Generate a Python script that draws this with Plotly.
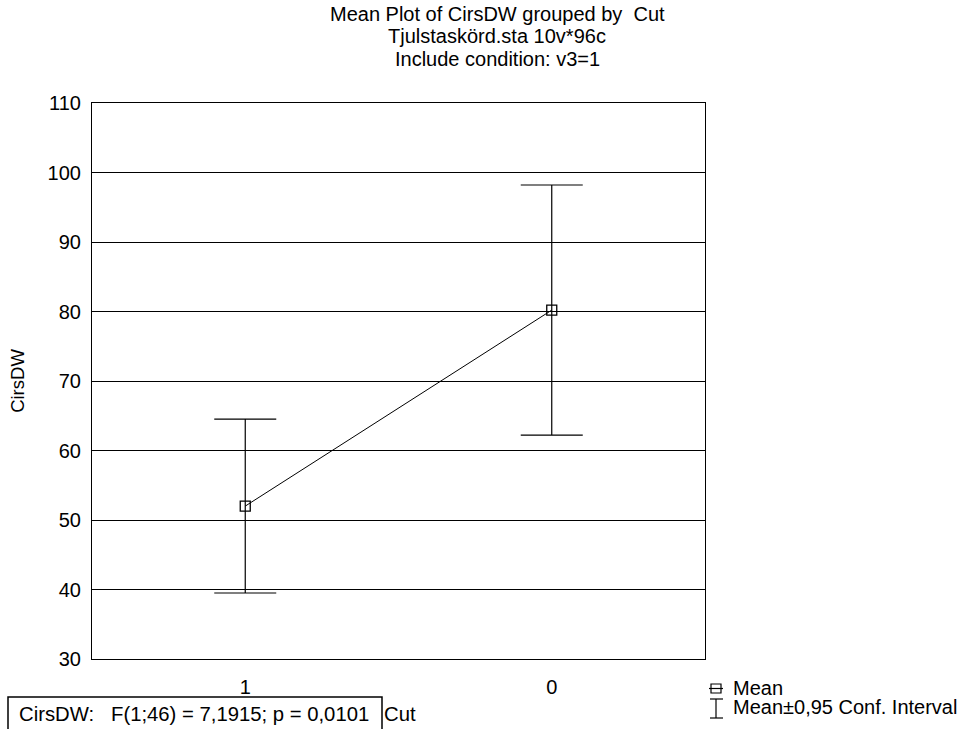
import plotly.graph_objects as go

# ---- data ----
categories = ["1", "0"]
means = [52.0, 80.2]
ci_half = [12.5, 18.0]
y_ticks = [30, 40, 50, 60, 70, 80, 90, 100, 110]

title_lines = ["Mean Plot of CirsDW grouped by  Cut",
               "Tjulstaskörd.sta 10v*96c",
               "Include condition: v3=1"]
stat_text = "CirsDW:   F(1;46) = 7,1915; p = 0,0101"
x_title = "Cut"
y_title = "CirsDW"
legend_items = ["Mean", "Mean±0,95 Conf. Interval"]

# ---- layout geometry (pixels) ----
W, H = 968, 729
L, R, T, B = 92, 705, 103, 659
PW, PH = R - L, B - T


def px(x):
    return (x - L) / PW


def py(y):
    return (B - y) / PH


FONT = "Liberation Sans, Arial, sans-serif"

fig = go.Figure()
fig.add_trace(go.Scatter(
    x=categories, y=means,
    mode="lines+markers",
    line=dict(color="black", width=1),
    marker=dict(symbol="square-open", size=10, color="black", line=dict(width=1.3)),
    error_y=dict(type="data", array=ci_half, visible=True, color="black",
                 thickness=1.2, width=31),
    showlegend=False,
    hoverinfo="skip",
))

annotations = []
for i, t in enumerate(title_lines):
    annotations.append(dict(text=t, xref="paper", yref="paper",
                            x=px(497), y=py(14 + 22.5 * i), xanchor="center",
                            yanchor="middle", showarrow=False,
                            font=dict(size=20, color="black", family=FONT)))
annotations.append(dict(text=stat_text, xref="paper", yref="paper",
                        x=px(17), y=py(714), xanchor="left", yanchor="middle",
                        showarrow=False, font=dict(size=20.3, color="black", family=FONT)))
annotations.append(dict(text=x_title, xref="paper", yref="paper",
                        x=px(382), y=py(714), xanchor="left", yanchor="middle",
                        showarrow=False, font=dict(size=20.3, color="black", family=FONT)))
annotations.append(dict(text=legend_items[0], xref="paper", yref="paper",
                        x=px(731), y=py(688), xanchor="left", yanchor="middle",
                        showarrow=False, font=dict(size=20, color="black", family=FONT)))
annotations.append(dict(text=legend_items[1], xref="paper", yref="paper",
                        x=px(731), y=py(707), xanchor="left", yanchor="middle",
                        showarrow=False, font=dict(size=20, color="black", family=FONT)))

shapes = [
    # stat box
    dict(type="rect", xref="paper", yref="paper",
         x0=px(8), x1=px(382), y0=py(740), y1=py(697),
         line=dict(color="black", width=1.5), fillcolor="rgba(0,0,0,0)"),
    # legend symbol: mean (square with line)
    dict(type="rect", xref="paper", yref="paper",
         x0=px(711), x1=px(721), y0=py(693), y1=py(684),
         line=dict(color="black", width=1.2)),
    dict(type="line", xref="paper", yref="paper",
         x0=px(709), x1=px(723), y0=py(688.5), y1=py(688.5),
         line=dict(color="black", width=1.2)),
    # legend symbol: CI whisker
    dict(type="line", xref="paper", yref="paper",
         x0=px(716), x1=px(716), y0=py(699), y1=py(718),
         line=dict(color="black", width=1.2)),
    dict(type="line", xref="paper", yref="paper",
         x0=px(710), x1=px(723), y0=py(699), y1=py(699),
         line=dict(color="black", width=1.2)),
    dict(type="line", xref="paper", yref="paper",
         x0=px(710), x1=px(723), y0=py(718), y1=py(718),
         line=dict(color="black", width=1.2)),
]

fig.update_layout(
    width=W, height=H,
    margin=dict(l=L, r=W - R, t=T, b=H - B, pad=0),
    paper_bgcolor="white", plot_bgcolor="white",
    font=dict(family=FONT, color="black", size=20),
    annotations=annotations,
    shapes=shapes,
    hovermode=False,
    xaxis=dict(type="category", range=[-0.5, 1.5], showgrid=False,
               showline=True, mirror=True, linecolor="black", linewidth=1.2,
               ticks="", ticklabelstandoff=10, tickfont=dict(size=20), zeroline=False),
    yaxis=dict(range=[30, 110], tickvals=y_ticks, showgrid=True, gridcolor="black",
               gridwidth=1, showline=True, mirror=True, linecolor="black",
               linewidth=1.2, ticks="", ticklabelstandoff=6, tickfont=dict(size=20),
               zeroline=False,
               title=dict(text=y_title, font=dict(size=18.5), standoff=18)),
)

fig.write_html("out.html",
               config={"displayModeBar": False},
               post_script="document.body.style.margin='0';document.body.style.overflow='hidden';")
